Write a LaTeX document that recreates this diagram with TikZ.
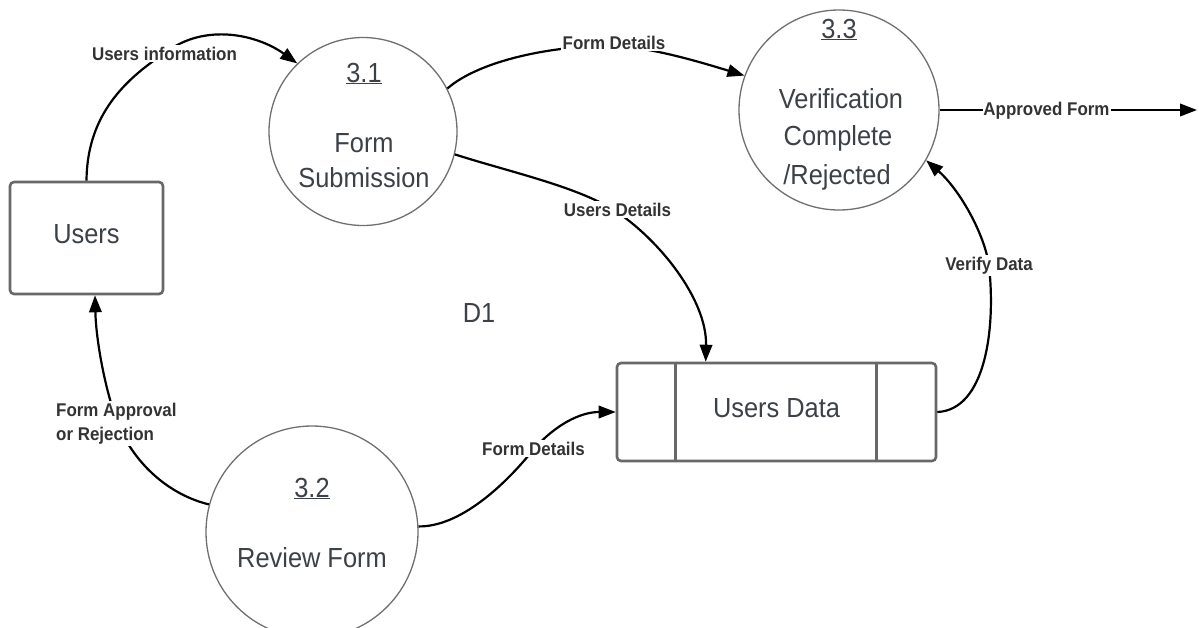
\documentclass[tikz,border=0pt]{standalone}
\usepackage{fontspec}
\setmainfont{Liberation Sans}[FakeStretch=0.92]
\usetikzlibrary{arrows.meta,calc}
\definecolor{txtgray}{HTML}{3C4148}
\definecolor{lblgray}{HTML}{333333}
\definecolor{circgray}{HTML}{707070}
\definecolor{boxgray}{HTML}{686868}
\newcommand\bigtxt{\fontsize{27.6}{35}\selectfont}
\newcommand\lbltxt{\fontsize{18.4}{24}\selectfont\bfseries}
\tikzset{
  flow/.style={line width=2.2pt, draw=black, -{Triangle[length=17pt,width=12.5pt]}},
  lbl/.style={fill=white, inner sep=2pt, text=lblgray, font=\lbltxt},
  proc/.style={circle, draw=circgray, line width=1.3pt, inner sep=0pt, fill=white},
  entity/.style={rectangle, draw=boxgray, line width=2.6pt, rounded corners=4pt, inner sep=0pt, fill=white},
  bigtext/.style={inner sep=0pt, text=txtgray, font=\bigtxt, anchor=base},
  divider/.style={draw=boxgray, line width=2.6pt},
}
\begin{document}
\begin{tikzpicture}[x=1pt,y=-1pt]
\clip (0,0) rectangle (1199,627);
\fill[white] (0,0) rectangle (1199,627);

% shapes
\node[entity, minimum width=153pt, minimum height=112pt] (users) at (86.5,238) {};
\node[entity, minimum width=319pt, minimum height=98pt] (ud) at (776.5,412) {};
\draw[divider] ([xshift=60pt]ud.north west) -- ([xshift=60pt]ud.south west);
\draw[divider] ([xshift=-61pt]ud.north east) -- ([xshift=-61pt]ud.south east);
\node[proc, minimum size=188pt] (c31) at (363,131.5) {};
\node[proc, minimum size=200pt] (c33) at (839,110) {};
\node[proc, minimum size=212pt] (c32) at (312,532) {};

% texts
\node[bigtext] (userst) at (86.5,243) {Users};
\node[bigtext] (udt) at (776.5,417) {Users Data};
\node[bigtext] (n31) at (364,82) {\underline{3.1}};
\node[bigtext] (t31a) at (364,152) {Form};
\node[bigtext] (t31b) at (364,187) {Submission};
\node[bigtext] (n33) at (839,38) {\underline{3.3}};
\node[bigtext] (t33a) at (841,108) {Verification};
\node[bigtext] (t33b) at (838,145) {Complete};
\node[bigtext] (t33c) at (837,184) {/Rejected};
\node[bigtext] (n32) at (312,497) {\underline{3.2}};
\node[bigtext] (t32) at (312,567) {Review Form};
\node[bigtext] (d1) at (479,322) {D1};

% connector points
\coordinate (uiP) at (165,53);
\coordinate (fdaP) at (614,46);
\coordinate (udP) at (614,210);
\coordinate (vdP) at (989,266);
\coordinate (fdbP) at (533,450);
\coordinate (farP) at (118,424);
\coordinate (udIn) at ([xshift=90pt]ud.north west);
\coordinate (usersIn) at ([xshift=8.5pt]users.south);
\coordinate (afEnd) at (1197,110);

% connectors
\draw[flow] (users.north) .. controls (87,120) and (119,83) .. (uiP)
  .. controls (205,22) and (258,35) .. (c31.134);
\draw[flow] (c31.27) .. controls (480,60) and (555,45) .. (fdaP)
  .. controls (650,47) and (700,62) .. (c33.160);
\draw[flow] (c31.-14) .. controls (510,172) and (575,186) .. (udP)
  .. controls (660,240) and (707,300) .. (udIn);
\draw[flow] (ud.east) .. controls (985,410) and (996,330) .. (vdP)
  .. controls (985,235) and (960,190) .. (c33.-30);
\draw[flow] (c32.3) .. controls (460,527) and (505,485) .. (fdbP)
  .. controls (555,425) and (580,412) .. (ud.west);
\draw[flow] (c32.165) .. controls (170,495) and (135,465) .. (farP)
  .. controls (105,390) and (96,340) .. (usersIn);
\draw[flow] (c33.east) -- (afEnd);

% labels
\node[lbl, anchor=base] (ui) at (164.5,60) {Users information};
\node[lbl, anchor=base] (fda) at (614,49) {Form Details};
\node[lbl, anchor=base] (udl) at (617.5,216) {Users Details};
\node[lbl, anchor=base, inner sep=1pt] (af) at (1046.5,115) {Approved Form};
\node[lbl, anchor=base] (vd) at (989,270) {Verify Data};
\node[lbl, anchor=base] (fdb) at (533.5,455) {Form Details};
\node[lbl, anchor=north west, align=left] (far) at (54,401) {Form Approval\\or Rejection};
\end{tikzpicture}
\end{document}
